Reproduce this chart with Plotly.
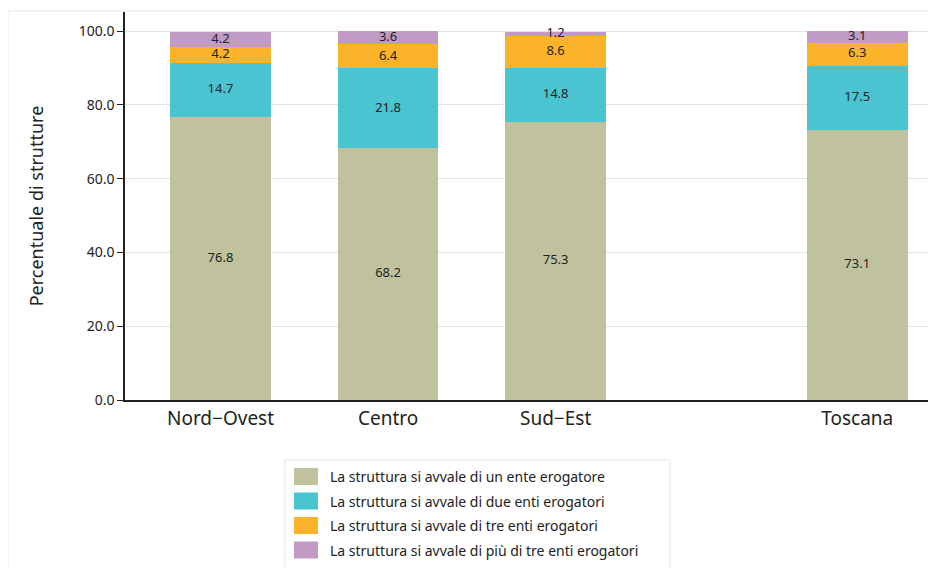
import plotly.graph_objects as go

categories = ["Nord\u2212Ovest", "Centro", "Sud\u2212Est", "Toscana"]
x_positions = [0, 1, 2, 3.8]

series_names = [
    "La struttura si avvale di un ente erogatore",
    "La struttura si avvale di due enti erogatori",
    "La struttura si avvale di tre enti erogatori",
    "La struttura si avvale di più di tre enti erogatori",
]
un_ente = [76.8, 68.2, 75.3, 73.1]
due_enti = [14.7, 21.8, 14.8, 17.5]
tre_enti = [4.2, 6.4, 8.6, 6.3]
piu_di_tre = [4.2, 3.6, 1.2, 3.1]
series_values = [un_ente, due_enti, tre_enti, piu_di_tre]
colors = ["#BFC29D", "#4AC4D0", "#FBB329", "#C29AC6"]

y_ticks = [0, 20, 40, 60, 80, 100]
y_ticktext = ["0.0", "20.0", "40.0", "60.0", "80.0", "100.0"]

FONT = "Noto Sans"
TXT = "#222222"
FRAME = "#dcebea"

# page offset (body margin) and plot area geometry in screen pixels
OFF = 8
W, H = 936, 568
L, R, T, B = 125 - OFF, 936 - OFF, 12 - OFF, 400 - OFF
PW, PH = R - L, B - T


def px(x):
    return (x - OFF - L) / PW


def py(y):
    return (B - (y - OFF)) / PH


fig = go.Figure()
base = [0.0] * len(categories)
for name, vals, col in zip(series_names, series_values, colors):
    fig.add_trace(go.Bar(
        x=x_positions, y=vals, name=name, marker_color=col,
        marker_line_width=0, width=0.6, showlegend=False,
    ))
    mids = [b + v / 2 for b, v in zip(base, vals)]
    fig.add_trace(go.Scatter(
        x=x_positions, y=mids, mode="text",
        text=[f"{v:.1f}" for v in vals],
        textfont=dict(family=FONT, size=13, color=TXT),
        showlegend=False, hoverinfo="skip",
    ))
    base = [b + v for b, v in zip(base, vals)]

shapes = [
    # outer frame (top and left edges)
    dict(type="line", xref="paper", yref="paper",
         x0=px(8), x1=px(960), y0=py(11), y1=py(11),
         line=dict(color=FRAME, width=1)),
    dict(type="line", xref="paper", yref="paper",
         x0=px(8), x1=px(8), y0=py(11), y1=py(600),
         line=dict(color=FRAME, width=1)),
    # legend box
    dict(type="rect", xref="paper", yref="paper",
         x0=px(285), x1=px(670), y0=py(460), y1=py(600),
         line=dict(color=FRAME, width=1), fillcolor="rgba(0,0,0,0)"),
]
annotations = []
row_centers = [476.5, 501, 525.5, 550]
for name, col, yc in zip(series_names, colors, row_centers):
    shapes.append(dict(type="rect", xref="paper", yref="paper",
                       x0=px(294), x1=px(318), y0=py(yc - 8.5), y1=py(yc + 8.5),
                       line=dict(width=0), fillcolor=col))
    annotations.append(dict(xref="paper", yref="paper", x=px(328), y=py(yc),
                            xanchor="left", yanchor="middle", showarrow=False,
                            text=name, font=dict(family=FONT, size=14, color=TXT)))

fig.update_layout(
    barmode="stack",
    width=W, height=H,
    margin=dict(l=L, r=W - R, t=T, b=H - B, autoexpand=False),
    paper_bgcolor="white", plot_bgcolor="white",
    font=dict(family=FONT, color=TXT),
    showlegend=False,
    xaxis=dict(
        range=[-0.57, 4.27], automargin=False,
        tickvals=x_positions, ticktext=categories,
        tickfont=dict(family=FONT, size=19, color=TXT),
        showline=True, linecolor=TXT, linewidth=1.5,
        ticks="", showgrid=False, zeroline=False,
    ),
    yaxis=dict(
        range=[0, 105.2], automargin=False,
        tickvals=y_ticks, ticktext=y_ticktext,
        tickfont=dict(family=FONT, size=14, color=TXT),
        showline=True, linecolor=TXT, linewidth=1.5,
        ticks="outside", ticklen=6, tickcolor=TXT,
        showgrid=True, gridcolor="#e3e3e3", gridwidth=1,
        zeroline=False,
        title=dict(text="Percentuale di strutture",
                   font=dict(family=FONT, size=18, color=TXT),
                   standoff=30),
    ),
    shapes=shapes,
    annotations=annotations,
)

fig.write_html("out.html")
